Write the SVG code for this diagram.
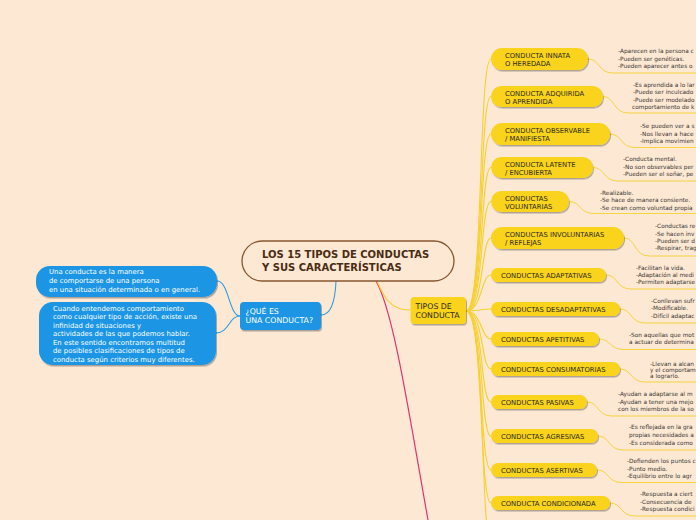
<svg xmlns="http://www.w3.org/2000/svg" width="696" height="520" viewBox="0 0 696 520">
<defs>
<filter id="sh" x="-10%" y="-20%" width="125%" height="160%">
<feDropShadow dx="1" dy="1.5" stdDeviation="0.7" flood-color="#000" flood-opacity="0.3"/>
</filter>
<style>
.bg{fill:#fde8d4}
.y{fill:#f9d31f;filter:url(#sh)}
.b{fill:#1b96e4;filter:url(#sh)}
.yl{font-family:"DejaVu Sans",sans-serif;font-size:6.8px;fill:#2e2a1e}
.bl{font-family:"DejaVu Sans",sans-serif;font-size:6.9px;fill:#ffffff}
.big{font-family:"DejaVu Sans",sans-serif;font-size:7.8px}
.t{font-family:"DejaVu Sans",sans-serif;font-size:5.8px;fill:#3a3632}
.cy{fill:none;stroke:#f6d02e;stroke-width:1.1}
.cu{fill:none;stroke:#f6d02e;stroke-width:0.9}
.cb{fill:none;stroke:#2d9be0;stroke-width:1.1}
.cp{fill:none;stroke:#e3336b;stroke-width:1.2}
</style>
</defs>
<rect class="bg" x="0" y="0" width="696" height="520"/>

<g id="connectors">
<path class="cp" d="M376,281 C394,312 410,420 428,520"/>
<path class="cy" d="M377,281 C385,300 392,310 410,310"/>
<path class="cb" d="M336,281 C335,305 330,315 321,315"/>
<path class="cb" d="M240,316 C229,316 229,281 217,281"/>
<path class="cb" d="M240,316 C229,316 229,333 216,333"/>
<path class="cy" d="M466,311 C484,311 478,59 491,59"/>
<path class="cy" d="M466,311 C484,311 479,96.5 491,96.5"/>
<path class="cy" d="M466,311 C484,311 479,134 491,134"/>
<path class="cy" d="M466,311 C484,311 480,167.5 491,167.5"/>
<path class="cy" d="M466,311 C484,311 480,201.5 491,201.5"/>
<path class="cy" d="M466,311 C484,311 481,238 491,238"/>
<path class="cy" d="M466,311 C482,311 481,275 491,275"/>
<path class="cy" d="M466,311 C478,311 481,309 491,309"/>
<path class="cy" d="M466,311 C482,311 481,339 491,339"/>
<path class="cy" d="M466,311 C484,311 481,369 491,369"/>
<path class="cy" d="M466,311 C484,311 480,402 491,402"/>
<path class="cy" d="M466,311 C484,311 480,436 491,436"/>
<path class="cy" d="M466,311 C484,311 479,470 491,470"/>
<path class="cy" d="M466,311 C484,311 479,503 491,503"/>
<path class="cy" d="M466,311 C486,311 480,540 491,540"/>
<path class="cu" d="M588,59 C600,59 598,73 613,73 H696"/>
<path class="cu" d="M603,96.5 C615,96.5 613,113 628,113 H696"/>
<path class="cu" d="M610,134 C622,134 620,147.5 635,147.5 H696"/>
<path class="cu" d="M593,167.5 C605,167.5 603,181 618,181 H696"/>
<path class="cu" d="M569,201.5 C581,201.5 579,213.5 594,213.5 H696"/>
<path class="cu" d="M624,238 C636,238 634,256 649,256 H696"/>
<path class="cu" d="M606,275 C618,275 616,289 631,289 H696"/>
<path class="cu" d="M620,309 C632,309 630,323 645,323 H696"/>
<path class="cu" d="M599,339 C611,339 609,349.5 624,349.5 H696"/>
<path class="cu" d="M620,369 C632,369 630,382 645,382 H696"/>
<path class="cu" d="M587,402 C599,402 597,416 612,416 H696"/>
<path class="cu" d="M598,436 C610,436 608,450 623,450 H696"/>
<path class="cu" d="M597,470 C609,470 607,482.5 622,482.5 H696"/>
<path class="cu" d="M610,503 C622,503 620,516 635,516 H696"/>
</g>

<g id="central">
<rect x="242" y="241" width="212" height="40" rx="20" fill="none" stroke="#86572f" stroke-width="1.3"/>
<text font-family="DejaVu Sans, sans-serif" font-size="10px" font-weight="bold" fill="#4a2c12"><tspan x="262" y="258.3">LOS 15 TIPOS DE CONDUCTAS</tspan><tspan x="262" y="270.7">Y SUS CARACTERÍSTICAS</tspan></text>
</g>

<g id="que-es">
<rect class="b" x="240" y="302" width="81" height="28" rx="4"/>
<text class="big" fill="#ffffff"><tspan x="245.5" y="314">¿QUÉ ES</tspan><tspan x="245.5" y="323.3">UNA CONDUCTA?</tspan></text>
</g>

<g id="def1">
<rect class="b" x="36" y="266" width="181" height="31" rx="14"/>
<text class="bl"><tspan x="49" y="274">Una conducta es la manera</tspan><tspan x="49" y="283">de comportarse de una persona</tspan><tspan x="49" y="291.6">en una situación determinada o en general.</tspan></text>
</g>

<g id="def2">
<rect class="b" x="39" y="302" width="177" height="63" rx="14"/>
<text class="bl"><tspan x="53" y="310.5">Cuando entendemos comportamiento</tspan><tspan x="53" y="319">como cualquier tipo de acción, existe una</tspan><tspan x="53" y="327.6">infinidad de situaciones y</tspan><tspan x="53" y="336.2">actividades de las que podemos hablar.</tspan><tspan x="53" y="344.8">En este sentido encontramos multitud</tspan><tspan x="53" y="353.3">de posibles clasificaciones de tipos de</tspan><tspan x="53" y="361.9">conducta según criterios muy diferentes.</tspan></text>
</g>

<g id="tipos">
<rect class="y" x="410.5" y="297" width="55.5" height="27" rx="4"/>
<text class="big" fill="#2e2a1e"><tspan x="415.5" y="308.6">TIPOS DE</tspan><tspan x="415.5" y="318">CONDUCTA</tspan></text>
</g>

<g id="n1">
<rect class="y" x="491" y="48" width="97" height="22" rx="11"/>
<text class="yl"><tspan x="505" y="58">CONDUCTA INNATA</tspan><tspan x="505" y="66">O HEREDADA</tspan></text>
<text class="t"><tspan x="618" y="53">-Aparecen en la persona c</tspan><tspan x="618" y="60.5">-Pueden ser genéticas.</tspan><tspan x="618" y="68">-Pueden aparecer antes o</tspan></text>
</g>

<g id="n2">
<rect class="y" x="491" y="86" width="112" height="21" rx="10.5"/>
<text class="yl"><tspan x="505" y="95.8">CONDUCTA ADQUIRIDA</tspan><tspan x="505" y="103.8">O APRENDIDA</tspan></text>
<text class="t"><tspan x="633" y="86.5">-Es aprendida a lo lar</tspan><tspan x="633" y="94">-Puede ser inculcado</tspan><tspan x="633" y="101.5">-Puede ser modelado</tspan><tspan x="632" y="108.5">comportamiento de k</tspan></text>
</g>

<g id="n3">
<rect class="y" x="491" y="123" width="119" height="22" rx="11"/>
<text class="yl"><tspan x="505" y="133">CONDUCTA OBSERVABLE</tspan><tspan x="505" y="141">/ MANIFIESTA</tspan></text>
<text class="t"><tspan x="640" y="128">-Se pueden ver a s</tspan><tspan x="640" y="135.5">-Nos llevan a hace</tspan><tspan x="640" y="143">-Implica movimien</tspan></text>
</g>

<g id="n4">
<rect class="y" x="491" y="157" width="102" height="21" rx="10.5"/>
<text class="yl"><tspan x="505" y="166.8">CONDUCTA LATENTE</tspan><tspan x="505" y="174.8">/ ENCUBIERTA</tspan></text>
<text class="t"><tspan x="623" y="161">-Conducta mental.</tspan><tspan x="623" y="168.5">-No son observables per</tspan><tspan x="623" y="176">-Pueden ser el soñar, pe</tspan></text>
</g>

<g id="n5">
<rect class="y" x="491" y="191" width="78" height="21" rx="10.5"/>
<text class="yl"><tspan x="505" y="200.8">CONDUCTAS</tspan><tspan x="505" y="208.8">VOLUNTARIAS</tspan></text>
<text class="t"><tspan x="600" y="194.5">-Realizable.</tspan><tspan x="600" y="202">-Se hace de manera consiente.</tspan><tspan x="600" y="209.5">-Se crean como voluntad propia</tspan></text>
</g>

<g id="n6">
<rect class="y" x="491" y="227" width="133" height="22" rx="11"/>
<text class="yl"><tspan x="505" y="237">CONDUCTAS INVOLUNTARIAS</tspan><tspan x="505" y="245">/ REFLEJAS</tspan></text>
<text class="t"><tspan x="655" y="228">-Conductas re</tspan><tspan x="655" y="235.5">-Se hacen inv</tspan><tspan x="655" y="242.5">-Pueden ser d</tspan><tspan x="655" y="250">-Respirar, trag</tspan></text>
</g>

<g id="n7">
<rect class="y" x="491" y="268" width="115" height="14" rx="7"/>
<text class="yl" x="501" y="277.7">CONDUCTAS ADAPTATIVAS</text>
<text class="t"><tspan x="636" y="269.5">-Facilitan la vida.</tspan><tspan x="636" y="276.5">-Adaptación al medi</tspan><tspan x="636" y="283.5">-Permiten adaptarse</tspan></text>
</g>

<g id="n8">
<rect class="y" x="491" y="302" width="129" height="14" rx="7"/>
<text class="yl" x="501" y="311.7">CONDUCTAS DESADAPTATIVAS</text>
<text class="t"><tspan x="651" y="302.5">-Conllevan sufr</tspan><tspan x="651" y="310">-Modificable.</tspan><tspan x="651" y="318">-Difícil adaptac</tspan></text>
</g>

<g id="n9">
<rect class="y" x="491" y="332" width="108" height="14" rx="7"/>
<text class="yl" x="501" y="341.7">CONDUCTAS APETITIVAS</text>
<text class="t"><tspan x="629" y="336.5">-Son aquellas que mot</tspan><tspan x="629" y="344">a actuar de determina</tspan></text>
</g>

<g id="n10">
<rect class="y" x="491" y="362" width="129" height="14" rx="7"/>
<text class="yl" x="501" y="371.7">CONDUCTAS CONSUMATORIAS</text>
<text class="t"><tspan x="650" y="365.5">-Llevan a alcan</tspan><tspan x="650" y="371.5">y el comportam</tspan><tspan x="650" y="377.5">a lograrlo.</tspan></text>
</g>

<g id="n11">
<rect class="y" x="491" y="395" width="96" height="14" rx="7"/>
<text class="yl" x="501" y="404.7">CONDUCTAS PASIVAS</text>
<text class="t"><tspan x="618" y="396">-Ayudan a adaptarse al m</tspan><tspan x="618" y="403.5">-Ayudan a tener una mejo</tspan><tspan x="618" y="411">con los miembros de la so</tspan></text>
</g>

<g id="n12">
<rect class="y" x="491" y="429" width="107" height="14" rx="7"/>
<text class="yl" x="501" y="438.7">CONDUCTAS AGRESIVAS</text>
<text class="t"><tspan x="629" y="428.5">-Es reflejada en la gra</tspan><tspan x="629" y="437">propias necesidades a</tspan><tspan x="629" y="444.5">-Es considerada como</tspan></text>
</g>

<g id="n13">
<rect class="y" x="491" y="463" width="106" height="14" rx="7"/>
<text class="yl" x="501" y="472.7">CONDUCTAS ASERTIVAS</text>
<text class="t"><tspan x="627" y="463">-Defienden los puntos c</tspan><tspan x="627" y="470.5">-Punto medio.</tspan><tspan x="627" y="478">-Equilibrio entre lo agr</tspan></text>
</g>

<g id="n14">
<rect class="y" x="491" y="496" width="119" height="14" rx="7"/>
<text class="yl" x="501" y="505.7">CONDUCTA CONDICIONADA</text>
<text class="t"><tspan x="640" y="495.5">-Respuesta a ciert</tspan><tspan x="640" y="503.5">-Consecuencia de</tspan><tspan x="640" y="511">-Respuesta condici</tspan></text>
</g>
</svg>
